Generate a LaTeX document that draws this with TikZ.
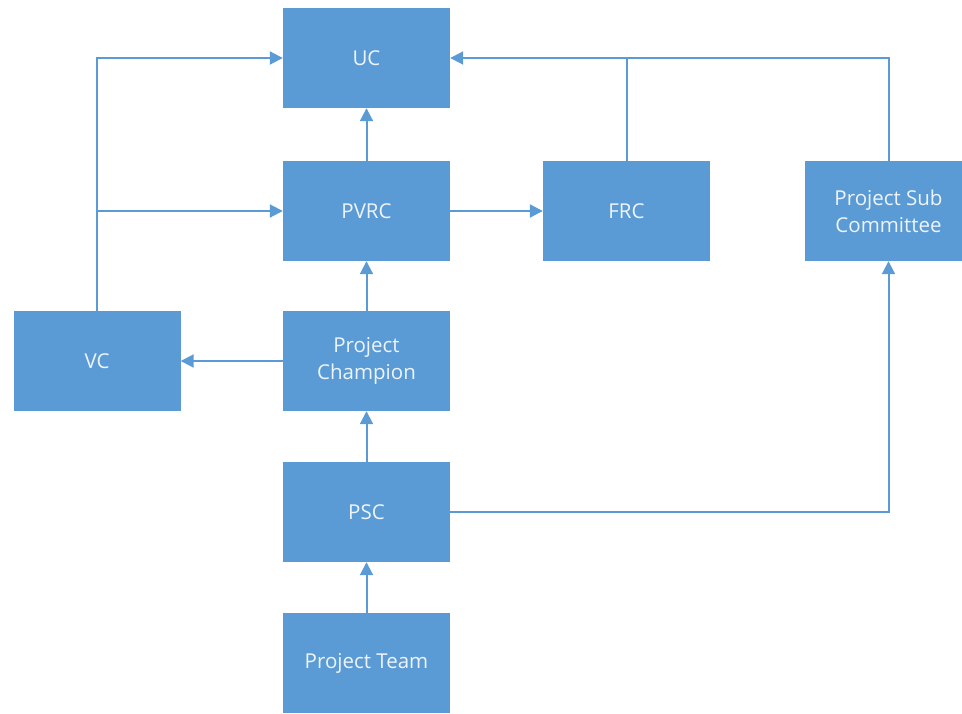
\documentclass[tikz,border=0pt]{standalone}
\usepackage{fontspec}
\setmainfont{Open Sans}
\usetikzlibrary{arrows.meta}
\definecolor{boxblue}{HTML}{5B9BD5}
\definecolor{txtcol}{HTML}{EEF4FB}
\tikzset{
  blk/.style={draw=none, fill=boxblue, minimum width=167pt, minimum height=100pt,
    text=txtcol, font=\fontsize{20.5}{27}\selectfont, align=center, inner sep=0pt},
  conn/.style={draw=boxblue, line width=2pt},
  arr/.style={conn, -{Triangle[length=13pt,width=13pt]}}
}
\begin{document}
\begin{tikzpicture}[x=1pt,y=-1pt]
\useasboundingbox (0,0) rectangle (962,713);
\node[blk] (uc) at (366.5,58) {UC};
\node[blk] (pvrc) at (366.5,211) {PVRC};
\node[blk] (frc) at (626.5,211) {FRC};
\node[blk] (psub) at (888.5,211) {Project Sub\\Committee};
\node[blk] (vc) at (97,361) {VC};
\node[blk] (champ) at (366.5,361) {Project\\Champion};
\node[blk] (psc) at (366.5,512) {PSC};
\node[blk] (team) at (366.5,663) {Project Team};
\coordinate (lj) at (vc.north |- pvrc.west);
\coordinate (tj) at (frc.north |- uc.east);
\draw[arr] (pvrc.north) -- (uc.south);
\draw[arr] (vc.north) |- (uc.west);
\draw[arr] (lj) -- (pvrc.west);
\draw[arr] (pvrc.east) -- (frc.west);
\draw[conn] (frc.north) -- (tj);
\draw[arr] (psub.north) |- (uc.east);
\draw[arr] (champ.north) -- (pvrc.south);
\draw[arr] (champ.west) -- (vc.east);
\draw[arr] (psc.north) -- (champ.south);
\draw[arr] (team.north) -- (psc.south);
\draw[arr] (psc.east) -| (psub.south);
\end{tikzpicture}
\end{document}
